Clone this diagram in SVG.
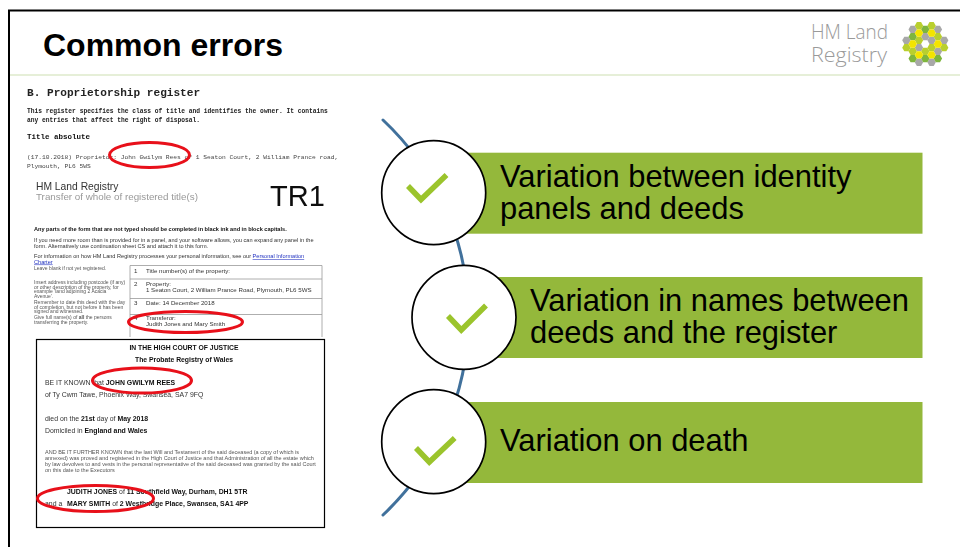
<svg xmlns="http://www.w3.org/2000/svg" width="960" height="547" viewBox="0 0 960 547">
<style>
.s{font-family:"Liberation Sans",Arial,sans-serif}
.m{font-family:"Liberation Mono","Courier New",monospace}
.t{font-family:"Liberation Sans",Arial,sans-serif;font-size:30.9px;fill:#000}
.bar{fill:#94b83b}
.c{fill:#fff;stroke:#000;stroke-width:1.700}
.k{fill:none;stroke:#9bc42c;stroke-width:5.500}
.r{fill:none;stroke:#e8101a;stroke-width:3}
.f{font-size:5.600px;fill:#333}
.v{font-size:6.150px;fill:#333}
.g{font-size:5px;fill:#555}
.e{font-size:5.500px;fill:#555}
.p{font-size:6.900px;fill:#333}
.b{font-weight:bold;fill:#111}
.u{fill:#2030c0;text-decoration:underline}
.l{stroke:#999;stroke-width:.8;fill:none}
.lg{font-family:"Open Sans","Liberation Sans",sans-serif;font-weight:300;font-size:20.500px;fill:#9a9a9a}
</style>
<defs>
<filter id="bl" x="-5%" y="-5%" width="110%" height="110%"><feGaussianBlur stdDeviation="0.55"/></filter>
<polygon id="h" points="-4.200,0 -2.100,-3.640 2.100,-3.640 4.200,0 2.100,3.640 -2.100,3.640"/>
</defs>
<rect width="960" height="547" fill="#fff"/>
<g id="frame">
<path d="M9 547V10.500H960" fill="none" stroke="#000" stroke-width="2"/>
<line x1="10" y1="75" x2="960" y2="75" stroke="#e6efd8" stroke-width="2"/>
</g>
<text id="title" class="s" x="43" y="56" font-size="32" font-weight="bold">Common errors</text>
<g id="logo">
<text class="lg" x="811" y="39" textLength="77" lengthAdjust="spacingAndGlyphs">HM Land</text>
<text class="lg" x="811" y="62" textLength="76" lengthAdjust="spacingAndGlyphs">Registry</text>
<g filter="url(#bl)">
<g fill="#a8a8a8"><use href="#h" x="925.300" y="36.700"/><use href="#h" x="919" y="47.650"/><use href="#h" x="919" y="62.250"/><use href="#h" x="931.600" y="40.350"/><use href="#h" x="931.600" y="62.250"/><use href="#h" x="912.700" y="29.400"/><use href="#h" x="937.900" y="29.400"/><use href="#h" x="937.900" y="51.300"/><use href="#h" x="906.400" y="40.350"/><use href="#h" x="944.200" y="40.350"/></g>
<g fill="#b9cf2d"><use href="#h" x="925.300" y="51.300"/><use href="#h" x="919" y="25.750"/><use href="#h" x="919" y="40.350"/><use href="#h" x="931.600" y="25.750"/><use href="#h" x="931.600" y="47.650"/><use href="#h" x="912.700" y="51.300"/><use href="#h" x="937.900" y="36.700"/><use href="#h" x="906.400" y="47.650"/><use href="#h" x="944.200" y="47.650"/></g>
<g fill="#7eb53c"><use href="#h" x="925.300" y="29.400"/><use href="#h" x="925.300" y="58.600"/><use href="#h" x="912.700" y="36.700"/><use href="#h" x="912.700" y="58.600"/><use href="#h" x="937.900" y="58.600"/></g>
<g fill="#f4e400"><use href="#h" x="919" y="33.050"/><use href="#h" x="931.600" y="33.050"/><use href="#h" x="919" y="54.950"/><use href="#h" x="931.600" y="54.950"/><use href="#h" x="912.700" y="44"/><use href="#h" x="937.900" y="44"/></g>
</g>
</g>
<g id="documents">
<g filter="url(#bl)">
<g class="m">
<text x="27" y="96" font-size="11.100" font-weight="bold" fill="#222">B. Proprietorship register</text>
<text x="27" y="113" font-size="6.280" fill="#222" font-weight="bold">This register specifies the class of title and identifies the owner. It contains</text>
<text x="27" y="122" font-size="6.280" fill="#222" font-weight="bold">any entries that affect the right of disposal.</text>
<text x="27" y="139" font-size="7.500" font-weight="bold" fill="#111">Title absolute</text>
<text x="27" y="159" font-size="6.260" fill="#444">(17.10.2018) Proprietor: John Gwilym Rees of 1 Seaton Court, 2 William Prance road,</text>
<text x="27" y="168" font-size="6.260" fill="#444">Plymouth, PL6 5WS</text>
</g>
<g class="s">
<text x="36" y="190" font-size="10.300" fill="#333">HM Land Registry</text>
<text x="36" y="200" font-size="9.800" fill="#999">Transfer of whole of registered title(s)</text>
<text x="270" y="206" font-size="29" fill="#111">TR1</text>
<text x="34" y="231" font-size="5.600" class="b">Any parts of the form that are not typed should be completed in black ink and in block capitals.</text>
<text x="34" y="242" class="f">If you need more room than is provided for in a panel, and your software allows, you can expand any panel in the</text>
<text x="34" y="247.500" class="f">form. Alternatively use continuation sheet CS and attach it to this form.</text>
<text x="34" y="258" class="f">For information on how HM Land Registry processes your personal information, see our <tspan class="u">Personal Information</tspan></text>
<text x="34" y="263.500" font-size="5.600" class="u">Charter</text>
<text x="34" y="270" class="g">Leave blank if not yet registered.</text>
<text x="34" y="284" class="g">Insert address including postcode (if any)</text>
<text x="34" y="288.500" class="g">or other description of the property, for</text>
<text x="34" y="293" class="g">example 'land adjoining 2 Acacia</text>
<text x="34" y="297.500" class="g">Avenue'.</text>
<text x="34" y="304" class="g">Remember to date this deed with the day</text>
<text x="34" y="308.500" class="g">of completion, but not before it has been</text>
<text x="34" y="313" class="g">signed and witnessed.</text>
<text x="34" y="319" class="g">Give full name(s) of <tspan font-weight="bold">all</tspan> the persons</text>
<text x="34" y="323.500" class="g">transferring the property.</text>
<path class="l" d="M130 337V265.500H322V337M130 279H322M130 298.500H322M130 314.500H322"/>
<text x="134" y="272.500" class="v">1</text><text x="146" y="272.500" class="v">Title number(s) of the property:</text>
<text x="134" y="285.500" class="v">2</text><text x="146" y="285.500" class="v">Property:</text>
<text x="146" y="291.500" class="v">1 Seaton Court, 2 William Prance Road, Plymouth, PL6 5WS</text>
<text x="134" y="305" class="v">3</text><text x="146" y="305" class="v">Date: 14 December 2018</text>
<text x="134" y="320" class="v">4</text><text x="146" y="320" class="v">Transferor:</text>
<text x="146" y="326" class="v">Judith Jones and Mary Smith</text>
</g>
</g>
<rect x="36.500" y="339.500" width="288" height="188" fill="#fff" stroke="#000" stroke-width="1.200"/>
<g class="s" filter="url(#bl)">
<text x="184" y="350" font-size="6.800" text-anchor="middle" class="b">IN THE HIGH COURT OF JUSTICE</text>
<text x="184" y="361.500" font-size="6.800" text-anchor="middle" class="b">The Probate Registry of Wales</text>
<text x="45" y="385" class="p">BE IT KNOWN that <tspan class="b">JOHN GWILYM REES</tspan></text>
<text x="45" y="396.500" class="p">of Ty Cwm Tawe, Phoenix Way, Swansea, SA7 9FQ</text>
<text x="45" y="420.500" class="p">died on the <tspan class="b">21st</tspan> day of <tspan class="b">May 2018</tspan></text>
<text x="45" y="432.500" class="p">Domiciled in <tspan class="b">England and Wales</tspan></text>
<text x="45" y="453.500" class="e">AND BE IT FURTHER KNOWN that the last Will and Testament of the said deceased (a copy of which is</text>
<text x="45" y="459.500" class="e">annexed) was proved and registered in the High Court of Justice and that Administration of all the estate which</text>
<text x="45" y="465.500" class="e">by law devolves to and vests in the personal representative of the said deceased was granted by the said Court</text>
<text x="45" y="471.500" class="e">on this date to the Executors</text>
<text x="67" y="494" class="p"><tspan class="b">JUDITH JONES</tspan> of <tspan class="b">11 Southfield Way, Durham, DH1 5TR</tspan></text>
<text x="45" y="506" class="p">and a <tspan x="67" class="b">MARY SMITH</tspan> of <tspan class="b">2 Westbridge Place, Swansea, SA1 4PP</tspan></text>
</g>
<g id="highlights">
<ellipse class="r" cx="149.500" cy="155" rx="40" ry="12.500"/>
<ellipse class="r" cx="185.500" cy="322" rx="57" ry="10.500"/>
<ellipse class="r" cx="142" cy="380.500" rx="49.500" ry="12.500"/>
<ellipse class="r" cx="95.500" cy="498.500" rx="58" ry="13"/>
</g>
</g>
<g id="connectors">
<path d="M383 120A271 271 0 0 1 383 515" fill="none" stroke="#41719c" stroke-width="3" stroke-linecap="round"/>
</g>
<g id="item1">
<rect class="bar" x="433" y="152.700" width="489.500" height="81"/>
<circle class="c" cx="433.700" cy="192.700" r="52"/>
<polyline class="k" points="408,186 421,199.500 446.500,175"/>
<text class="t"><tspan x="500" y="187">Variation between identity</tspan><tspan x="500" y="219">panels and deeds</tspan></text>
</g>
<g id="item2">
<rect class="bar" x="464" y="277" width="458.500" height="81"/>
<circle class="c" cx="464" cy="317.300" r="52"/>
<polyline class="k" points="448,316 461.300,330 486,305.500"/>
<text class="t"><tspan x="530" y="311">Variation in names between</tspan><tspan x="530" y="343">deeds and the register</tspan></text>
</g>
<g id="item3">
<rect class="bar" x="433" y="402" width="489.500" height="81"/>
<circle class="c" cx="433.700" cy="441.700" r="52"/>
<polyline class="k" points="416,448 429.300,462 454.700,438"/>
<text class="t" x="500" y="451">Variation on death</text>
</g>
</svg>
